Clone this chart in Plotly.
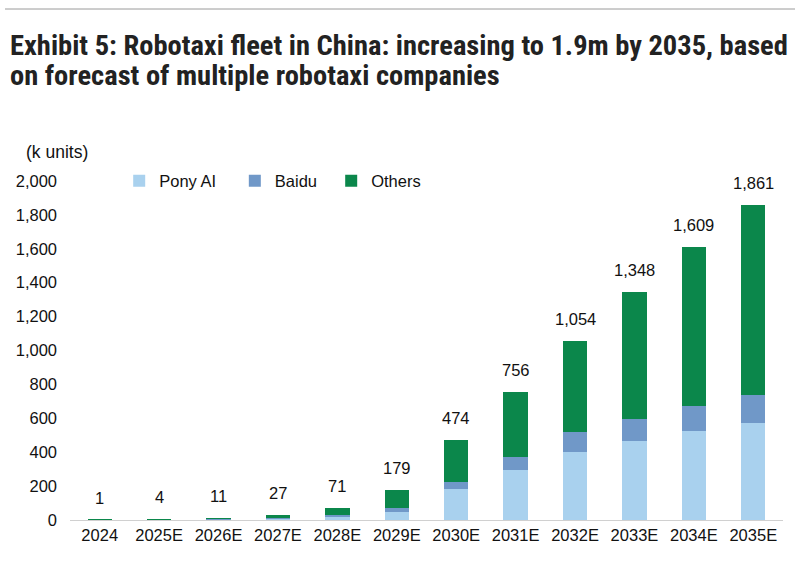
import plotly.graph_objects as go

years = ["2024", "2025E", "2026E", "2027E", "2028E", "2029E", "2030E",
         "2031E", "2032E", "2033E", "2034E", "2035E"]
pony = [0.3, 2, 4, 10, 22, 49, 181, 295, 403, 468, 523, 574]
baidu = [0.5, 1, 3, 6, 8, 24, 43, 75, 114, 128, 150, 165]
others = [0.2, 1, 4, 11, 41, 106, 250, 386, 537, 752, 936, 1122]
totals = [1, 4, 11, 27, 71, 179, 474, 756, 1054, 1348, 1609, 1861]
y_ticks = [0, 200, 400, 600, 800, 1000, 1200, 1400, 1600, 1800, 2000]
series_names = ["Pony AI", "Baidu", "Others"]

W, H = 800, 564
L, R, T, B = 70, 17, 181, 44
PW, PH = W - L - R, H - T - B


def px_x(x):
    return (x - L) / PW


def px_y(y):
    return 1 + (T - y) / PH


NB = "\u00a0"
fig = go.Figure()
fig.add_bar(x=years, y=pony, name=series_names[0] + NB * 3, marker_color="#a9d1ee",
            marker_line_width=0)
fig.add_bar(x=years, y=baidu, name=series_names[1] + NB * 2, marker_color="#7098c8",
            marker_line_width=0)
fig.add_bar(x=years, y=others, name=series_names[2], marker_color="#0b874b",
            marker_line_width=0)

annotations = [
    dict(x=i, y=tot, xref="x", yref="y", text=f"{tot:,}", showarrow=False,
         yanchor="bottom", yshift=11, font=dict(size=16.5, color="#111111"))
    for i, tot in enumerate(totals)
]
title_font = dict(family="Liberation Sans Narrow, Roboto Condensed, Roboto, sans-serif",
                  size=28.5, color="#222222", weight="bold")
annotations += [
    dict(text="Exhibit 5: Robotaxi fleet in China: increasing to 1.9m by 2035, based",
         xref="paper", yref="paper", x=px_x(8), xanchor="left", y=px_y(45),
         yanchor="middle", showarrow=False, font=title_font),
    dict(text="on forecast of multiple robotaxi companies",
         xref="paper", yref="paper", x=px_x(8), xanchor="left", y=px_y(76),
         yanchor="middle", showarrow=False, font=title_font),
    dict(text="(k units)", xref="paper", yref="paper", x=px_x(24),
         xanchor="left", y=px_y(152), yanchor="middle",
         showarrow=False, font=dict(size=17.5)),
]

fig.update_layout(
    width=W, height=H, barmode="stack", bargap=0.59,
    margin=dict(l=L, r=R, t=T, b=B),
    paper_bgcolor="white", plot_bgcolor="white",
    font=dict(family="Liberation Sans, Arial, sans-serif", size=16.5, color="#111111"),
    legend=dict(orientation="h", x=0.069, xanchor="left", y=1.0, yanchor="middle",
                font=dict(size=16.5), bgcolor="rgba(0,0,0,0)", traceorder="normal",
                itemwidth=30),
    xaxis=dict(type="category", categoryorder="array", categoryarray=years,
               range=[-0.5, len(years) - 0.5],
               showgrid=False, showline=True, linecolor="#d0d0d0", linewidth=1,
               ticks="", tickfont=dict(size=16.5)),
    yaxis=dict(range=[0, 2000], tickvals=y_ticks, tickformat=",", showgrid=False,
               zeroline=False, showline=False, ticks="", ticklabelstandoff=12,
               tickfont=dict(size=16.5)),
    annotations=annotations,
    shapes=[dict(type="line", xref="paper", yref="paper",
                 x0=px_x(5), x1=px_x(795), y0=px_y(9), y1=px_y(9),
                 line=dict(color="#9a9a9a", width=1))],
)

fig.write_html("out.html", config={"displayModeBar": False},
               post_script="document.body.style.margin='0';")
